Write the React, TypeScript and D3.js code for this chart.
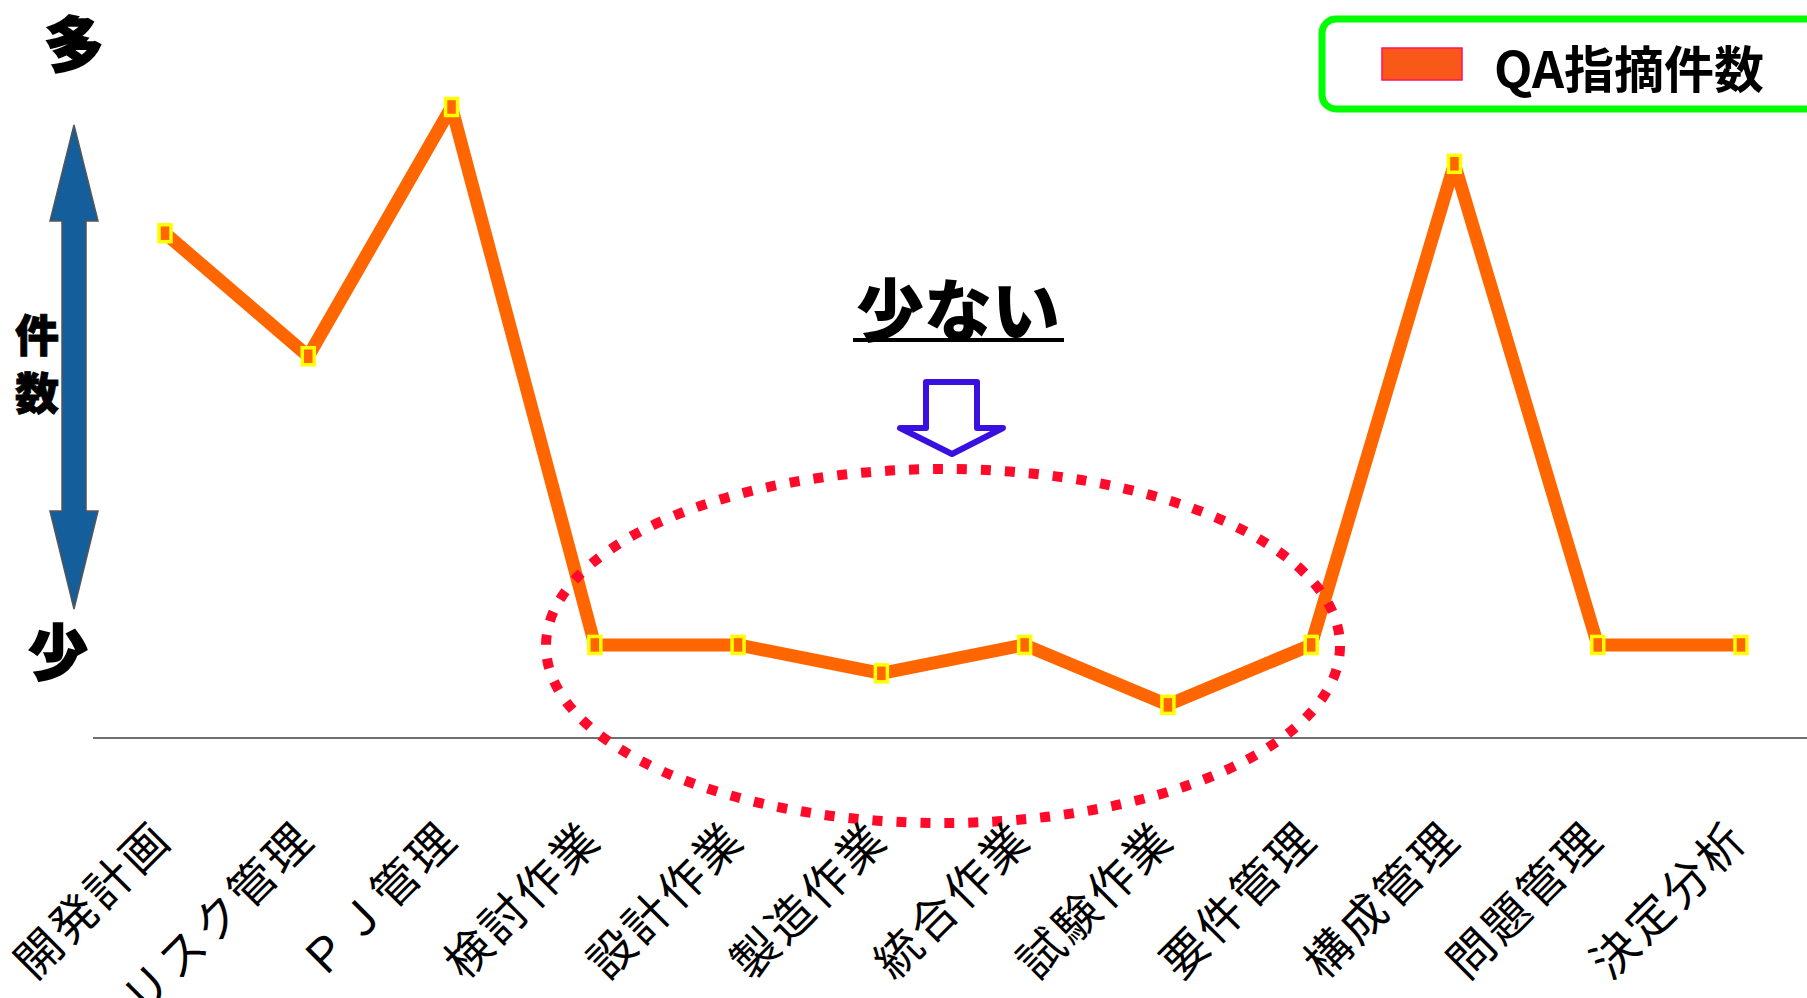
import React from "react";
import * as d3 from "d3";

const categories = ["開発計画", "リスク管理", "ＰＪ管理", "検討作業", "設計作業", "製造作業", "統合作業", "試験作業", "要件管理", "構成管理", "問題管理", "決定分析"];
const qaCounts = [16, 12.1, 20, 2.95, 2.95, 2.05, 2.95, 1.05, 2.95, 18.2, 2.95, 2.95];
const seriesName = "QA指摘件数";
const yTop = "多";
const yBottom = "少";
const yTitle = ["件", "数"];
const note = "少ない";

const W = 1807;
const H = 998;

export default function App() {
  const x = d3.scalePoint<string>().domain(categories).range([165, 1741]);
  const y = d3.scaleLinear().domain([0, 20]).range([738, 107]);
  const line = d3
    .line<number>()
    .x((_, i) => x(categories[i]) as number)
    .y((d) => y(d));
  const pathD = line(qaCounts) || "";

  const gothic = "'Noto Sans CJK JP', 'Noto Sans', sans-serif";

  // double-headed arrow geometry
  const ax = 74;
  const arrowPath = d3.path();
  arrowPath.moveTo(ax, 125);
  arrowPath.lineTo(ax + 24, 221);
  arrowPath.lineTo(ax + 12, 221);
  arrowPath.lineTo(ax + 12, 511);
  arrowPath.lineTo(ax + 24, 511);
  arrowPath.lineTo(ax, 609);
  arrowPath.lineTo(ax - 24, 511);
  arrowPath.lineTo(ax - 12, 511);
  arrowPath.lineTo(ax - 12, 221);
  arrowPath.lineTo(ax - 24, 221);
  arrowPath.closePath();

  const down = d3.path();
  down.moveTo(926, 382);
  down.lineTo(977, 382);
  down.lineTo(977, 428);
  down.lineTo(1003, 428);
  down.lineTo(952, 454);
  down.lineTo(900, 428);
  down.lineTo(926, 428);
  down.closePath();

  return (
    <svg
      width={W}
      height={H}
      style={{ position: "absolute", left: 0, top: 0, background: "#fff" }}
      fontFamily={gothic}
    >
      {/* baseline axis */}
      <line x1={93} x2={W} y1={738} y2={738} stroke="#707070" strokeWidth={2} />

      {/* y indicators */}
      <text x={74} y={40} textAnchor="middle" dominantBaseline="central" fontSize={60} fontWeight={900} stroke="#000" strokeWidth={1.5}>
        {yTop}
      </text>
      <text x={58} y={648} textAnchor="middle" dominantBaseline="central" fontSize={60} fontWeight={900} stroke="#000" strokeWidth={1.5}>
        {yBottom}
      </text>
      <path d={arrowPath.toString()} fill="#155E9C" stroke="#555" strokeWidth={1.5} />
      {yTitle.map((c, i) => (
        <text key={c} x={37} y={333 + i * 58} textAnchor="middle" dominantBaseline="central" fontSize={44} fontWeight={900} stroke="#000" strokeWidth={0.8}>
          {c}
        </text>
      ))}

      {/* series line */}
      <path d={pathD} fill="none" stroke="#FF6600" strokeWidth={13} strokeLinejoin="bevel" />
      {qaCounts.map((v, i) => (
        <rect
          key={i}
          x={(x(categories[i]) as number) - 6}
          y={y(v) - 8.5}
          width={12}
          height={17}
          fill="#FF6600"
          stroke="#FFFF00"
          strokeWidth={3.5}
        />
      ))}

      {/* dotted ellipse */}
      <ellipse cx={943} cy={646} rx={397} ry={177} fill="none" stroke="#FF0A2A" strokeWidth={10} strokeDasharray="10 14" />

      {/* note */}
      <text x={958} y={306} textAnchor="middle" dominantBaseline="central" fontSize={68} fontWeight={900}>
        {note}
      </text>
      <line x1={853} x2={1064} y1={340} y2={340} stroke="#000" strokeWidth={4} />
      <path d={down.toString()} fill="#fff" stroke="#3A10E0" strokeWidth={6} strokeLinejoin="round" />

      {/* legend */}
      <rect x={1322} y={19} width={500} height={90} rx={14} fill="#fff" stroke="#00FF00" strokeWidth={7} />
      <rect x={1382} y={48} width={80} height={32} fill="#F95818" stroke="#FF1060" strokeWidth={1.5} />
      <text x={1494} y={66} dominantBaseline="central" fontSize={50} fontWeight={700}>
        {seriesName}
      </text>

      {/* x labels */}
      {categories.map((c) => (
        <text
          key={c}
          transform={`translate(${(x(c) as number) - 2},830) rotate(-45)`}
          textAnchor="end"
          dy="0.35em"
          fontSize={46}
          letterSpacing={3.5}
          fontWeight={400}
        >
          {c}
        </text>
      ))}
    </svg>
  );
}
